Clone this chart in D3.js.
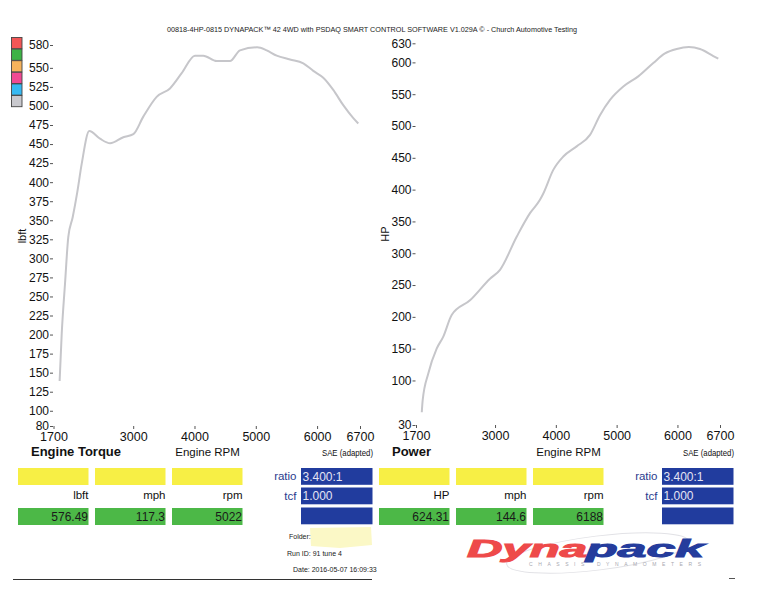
<!DOCTYPE html>
<html>
<head>
<meta charset="utf-8">
<script src="https://cdn.jsdelivr.net/npm/d3@7"></script>
<style>
  body { margin: 0; background: #fff; }
  svg { font-family: "Liberation Sans", Arial, sans-serif; }
  .axis .domain { display: none; }
  .axis line { stroke: #555; }
  .axis text { fill: #111; }
</style>
</head>
<body>
<script>
const w = 776;
const h = 600;

const title = '00818-4HP-0815 DYNAPACK\u2122 42 4WD with PSDAQ SMART CONTROL SOFTWARE V1.029A \u00a9 - Church Automotive Testing';

const rpmTicks = [1700, 3000, 4000, 5000, 6000, 6700];
const torqueTicks = [80, 100, 125, 150, 175, 200, 225, 250, 275, 300, 325, 350, 375, 400, 425, 450, 475, 500, 525, 550, 580];
const powerTicks = [30, 100, 150, 200, 250, 300, 350, 400, 450, 500, 550, 600, 630];

// torque curve
const torqueRpm = [1800, 1834, 1888, 1941, 2013, 2088, 2160, 2284, 2459, 2623, 2839, 3002, 3165, 3383, 3600, 3791, 4008, 4144, 4362, 4579, 4742, 5022, 5178, 5341, 5558, 5775, 5938, 6101, 6264, 6427, 6591, 6672];
const torque    = [139, 201, 267, 328, 354, 387, 424, 467, 457, 451, 459, 463, 486, 512, 523, 543, 566, 566, 559, 559, 573, 577, 573, 566, 561, 556, 546, 537, 521, 501, 484, 477];

// power curve
const powerRpm = [1795, 1810, 1902, 2040, 2149, 2287, 2588, 2917, 3082, 3356, 3575, 3739, 3794, 3958, 4123, 4343, 4562, 4726, 4891, 5110, 5356, 5603, 5795, 5988, 6188, 6371, 6590, 6672];
const power    = [50, 69, 111, 150, 169, 203, 226, 260, 274, 326, 363, 384, 394, 431, 452, 468, 486, 517, 541, 562, 578, 599, 614, 621, 624, 621, 610, 606];

const legendColors = ['#f25656', '#3db346', '#f6b35c', '#f04a93', '#36b9f2', '#c9c9ce'];

const torqueUnits = ['lbft', 'mph', 'rpm'];
const torqueValues = ['576.49', '117.3', '5022'];
const powerUnits = ['HP', 'mph', 'rpm'];
const powerValues = ['624.31', '144.6', '6188'];
const ratioLabels = ['ratio', 'tcf', ''];
const ratioValues = ['3.400:1', '1.000', ''];

const svg = d3.select('body').append('svg').attr('width', w).attr('height', h);

// title
svg.append('text')
  .attr('x', 167).attr('y', 32)
  .attr('textLength', 410).attr('lengthAdjust', 'spacingAndGlyphs')
  .style('font-size', '8px').attr('fill', '#222')
  .text(title);

// legend swatches
svg.selectAll('rect.legend')
  .data(legendColors)
  .enter()
  .append('rect')
  .attr('class', 'legend')
  .attr('x', 11.5).attr('y', (d, i) => 37.5 + i * 11.6)
  .attr('width', 10.5).attr('height', 11.2)
  .attr('fill', (d) => d)
  .attr('stroke', '#444').attr('stroke-width', 0.9);

function panel(o) {
  const xScale = d3.scaleLinear().domain([1700, 6700]).range([o.x0, o.x1]);
  const yScale = d3.scaleLinear().domain(o.yDomain).range(o.yRange);

  const yAxis = d3.axisLeft().scale(yScale).tickValues(o.yTicks).tickSize(3).tickPadding(1);
  const xAxis = d3.axisBottom().scale(xScale).tickValues(rpmTicks).tickSize(3).tickPadding(3).tickFormat(d3.format('d'));

  svg.append('g')
    .attr('class', 'axis')
    .attr('transform', 'translate(' + (o.x0 - 0.5) + ',0)')
    .call(yAxis)
    .selectAll('text').style('font-size', '12px');

  svg.append('g')
    .attr('class', 'axis')
    .attr('transform', 'translate(0,' + o.yRange[0] + ')')
    .call(xAxis)
    .selectAll('text').style('font-size', '12.5px');

  // y axis title
  svg.append('text')
    .attr('transform', 'translate(' + o.yLabelX + ',' + o.yLabelY + ') rotate(-90)')
    .attr('text-anchor', 'middle')
    .style('font-size', '11px').attr('fill', '#111')
    .text(o.yLabel);

  // curve
  const line = d3.line()
    .x((d) => xScale(d[0]))
    .y((d) => yScale(d[1]))
    .curve(d3.curveMonotoneX);

  svg.append('path')
    .datum(o.rpm.map((r, i) => [r, o.vals[i]]))
    .attr('d', line)
    .attr('fill', 'none')
    .attr('stroke', '#c6c6ca')
    .attr('stroke-width', 2)
    .attr('stroke-linejoin', 'round');

  const dx = o.dx;

  // labels under axis
  svg.append('text')
    .attr('x', 31 + dx).attr('y', 455.5)
    .style('font-size', '13px').style('font-weight', 'bold').attr('fill', '#111')
    .text(o.name);
  svg.append('text')
    .attr('x', 207.5 + dx).attr('y', 455.5).attr('text-anchor', 'middle')
    .style('font-size', '11.5px').attr('fill', '#111')
    .text('Engine RPM');
  svg.append('text')
    .attr('x', 373 + dx).attr('y', 456).attr('text-anchor', 'end')
    .attr('textLength', 51).attr('lengthAdjust', 'spacingAndGlyphs')
    .style('font-size', '9px').attr('fill', '#111')
    .text('SAE (adapted)');

  // readout boxes
  const boxX = [18, 95, 172];
  boxX.forEach((bx, i) => {
    svg.append('rect')
      .attr('x', bx + dx).attr('y', 468).attr('width', 70.5).attr('height', 17)
      .attr('fill', '#f7ef45');
    svg.append('text')
      .attr('x', bx + 70.5 + dx).attr('y', 498.5).attr('text-anchor', 'end')
      .style('font-size', '11.5px').attr('fill', '#111')
      .text(o.units[i]);
    svg.append('rect')
      .attr('x', bx + dx).attr('y', 508).attr('width', 70.5).attr('height', 17)
      .attr('fill', '#4cb847');
    svg.append('text')
      .attr('x', bx + 70 + dx).attr('y', 521).attr('text-anchor', 'end')
      .style('font-size', '12px').attr('fill', '#1a1a1a')
      .text(o.values[i]);
  });

  const blueY = [468, 487.5, 507.5];
  blueY.forEach((by, i) => {
    svg.append('rect')
      .attr('x', 301 + dx).attr('y', by).attr('width', 71.5).attr('height', 16.8)
      .attr('fill', '#213c9e');
    svg.append('text')
      .attr('x', 302.5 + dx).attr('y', by + 12.5)
      .style('font-size', '12px').attr('fill', '#e4e4f4')
      .text(ratioValues[i]);
    svg.append('text')
      .attr('x', 296.5 + dx).attr('y', by + 12)
      .attr('text-anchor', 'end')
      .style('font-size', '11.5px').attr('fill', '#2b3b8e')
      .text(ratioLabels[i]);
  });
}

panel({
  x0: 53.5, x1: 360, yDomain: [80, 580], yRange: [426, 45], yTicks: torqueTicks,
  yLabel: 'lbft', yLabelX: 25.5, yLabelY: 236,
  rpm: torqueRpm, vals: torque, name: 'Engine Torque',
  units: torqueUnits, values: torqueValues, dx: 0
});

panel({
  x0: 416, x1: 720, yDomain: [30, 630], yRange: [425, 43.3], yTicks: powerTicks,
  yLabel: 'HP', yLabelX: 389, yLabelY: 234,
  rpm: powerRpm, vals: power, name: 'Power',
  units: powerUnits, values: powerValues, dx: 361
});

// folder / run info
svg.append('path')
  .attr('d', 'M310,528 L371,527 L372,545 L340,548 L311,546 Z')
  .attr('fill', '#fbf8c6');
const infoLines = [['Folder:', '', 289, 539], ['Run ID:', '91 tune 4', 287, 555.5], ['Date:', '2016-05-07 16:09:33', 293, 572]];
infoLines.forEach((d) => {
  svg.append('text')
    .attr('x', d[2]).attr('y', d[3])
    .style('font-size', '7px').attr('fill', '#222')
    .text(d[0] + (d[1] ? '  ' + d[1] : ''));
});

// bottom rule
svg.append('line')
  .attr('x1', 13).attr('x2', 372).attr('y1', 579.5).attr('y2', 579.5)
  .attr('stroke', '#333').attr('stroke-width', 1.2);
svg.append('line')
  .attr('x1', 729).attr('x2', 735).attr('y1', 578.5).attr('y2', 578.5)
  .attr('stroke', '#555').attr('stroke-width', 1);

// Dynapack logo
const logo = svg.append('g');
logo.append('ellipse')
  .attr('cx', 598).attr('cy', 553).attr('rx', 92).attr('ry', 17)
  .attr('transform', 'rotate(-7,598,553)')
  .attr('fill', 'none').attr('stroke', '#e2e2e6').attr('stroke-width', 1);
logo.append('text')
  .attr('x', 467).attr('y', 557)
  .attr('textLength', 120).attr('lengthAdjust', 'spacingAndGlyphs')
  .style('font-size', '23px').style('font-weight', 'bold').style('font-style', 'italic')
  .attr('fill', '#ee4a4a').attr('stroke', '#ee4a4a').attr('stroke-width', 1)
  .text('Dyna');
logo.append('text')
  .attr('x', 586).attr('y', 557)
  .attr('textLength', 118).attr('lengthAdjust', 'spacingAndGlyphs')
  .style('font-size', '23px').style('font-weight', 'bold').style('font-style', 'italic')
  .attr('fill', '#253c9c').attr('stroke', '#253c9c').attr('stroke-width', 1)
  .text('pack');
logo.append('text')
  .attr('x', 529).attr('y', 565.5)
  .attr('textLength', 172).attr('lengthAdjust', 'spacing')
  .style('font-size', '5px').attr('fill', '#a8a8b0')
  .text('CHASSIS  DYNAMOMETERS');
</script>
</body>
</html>
